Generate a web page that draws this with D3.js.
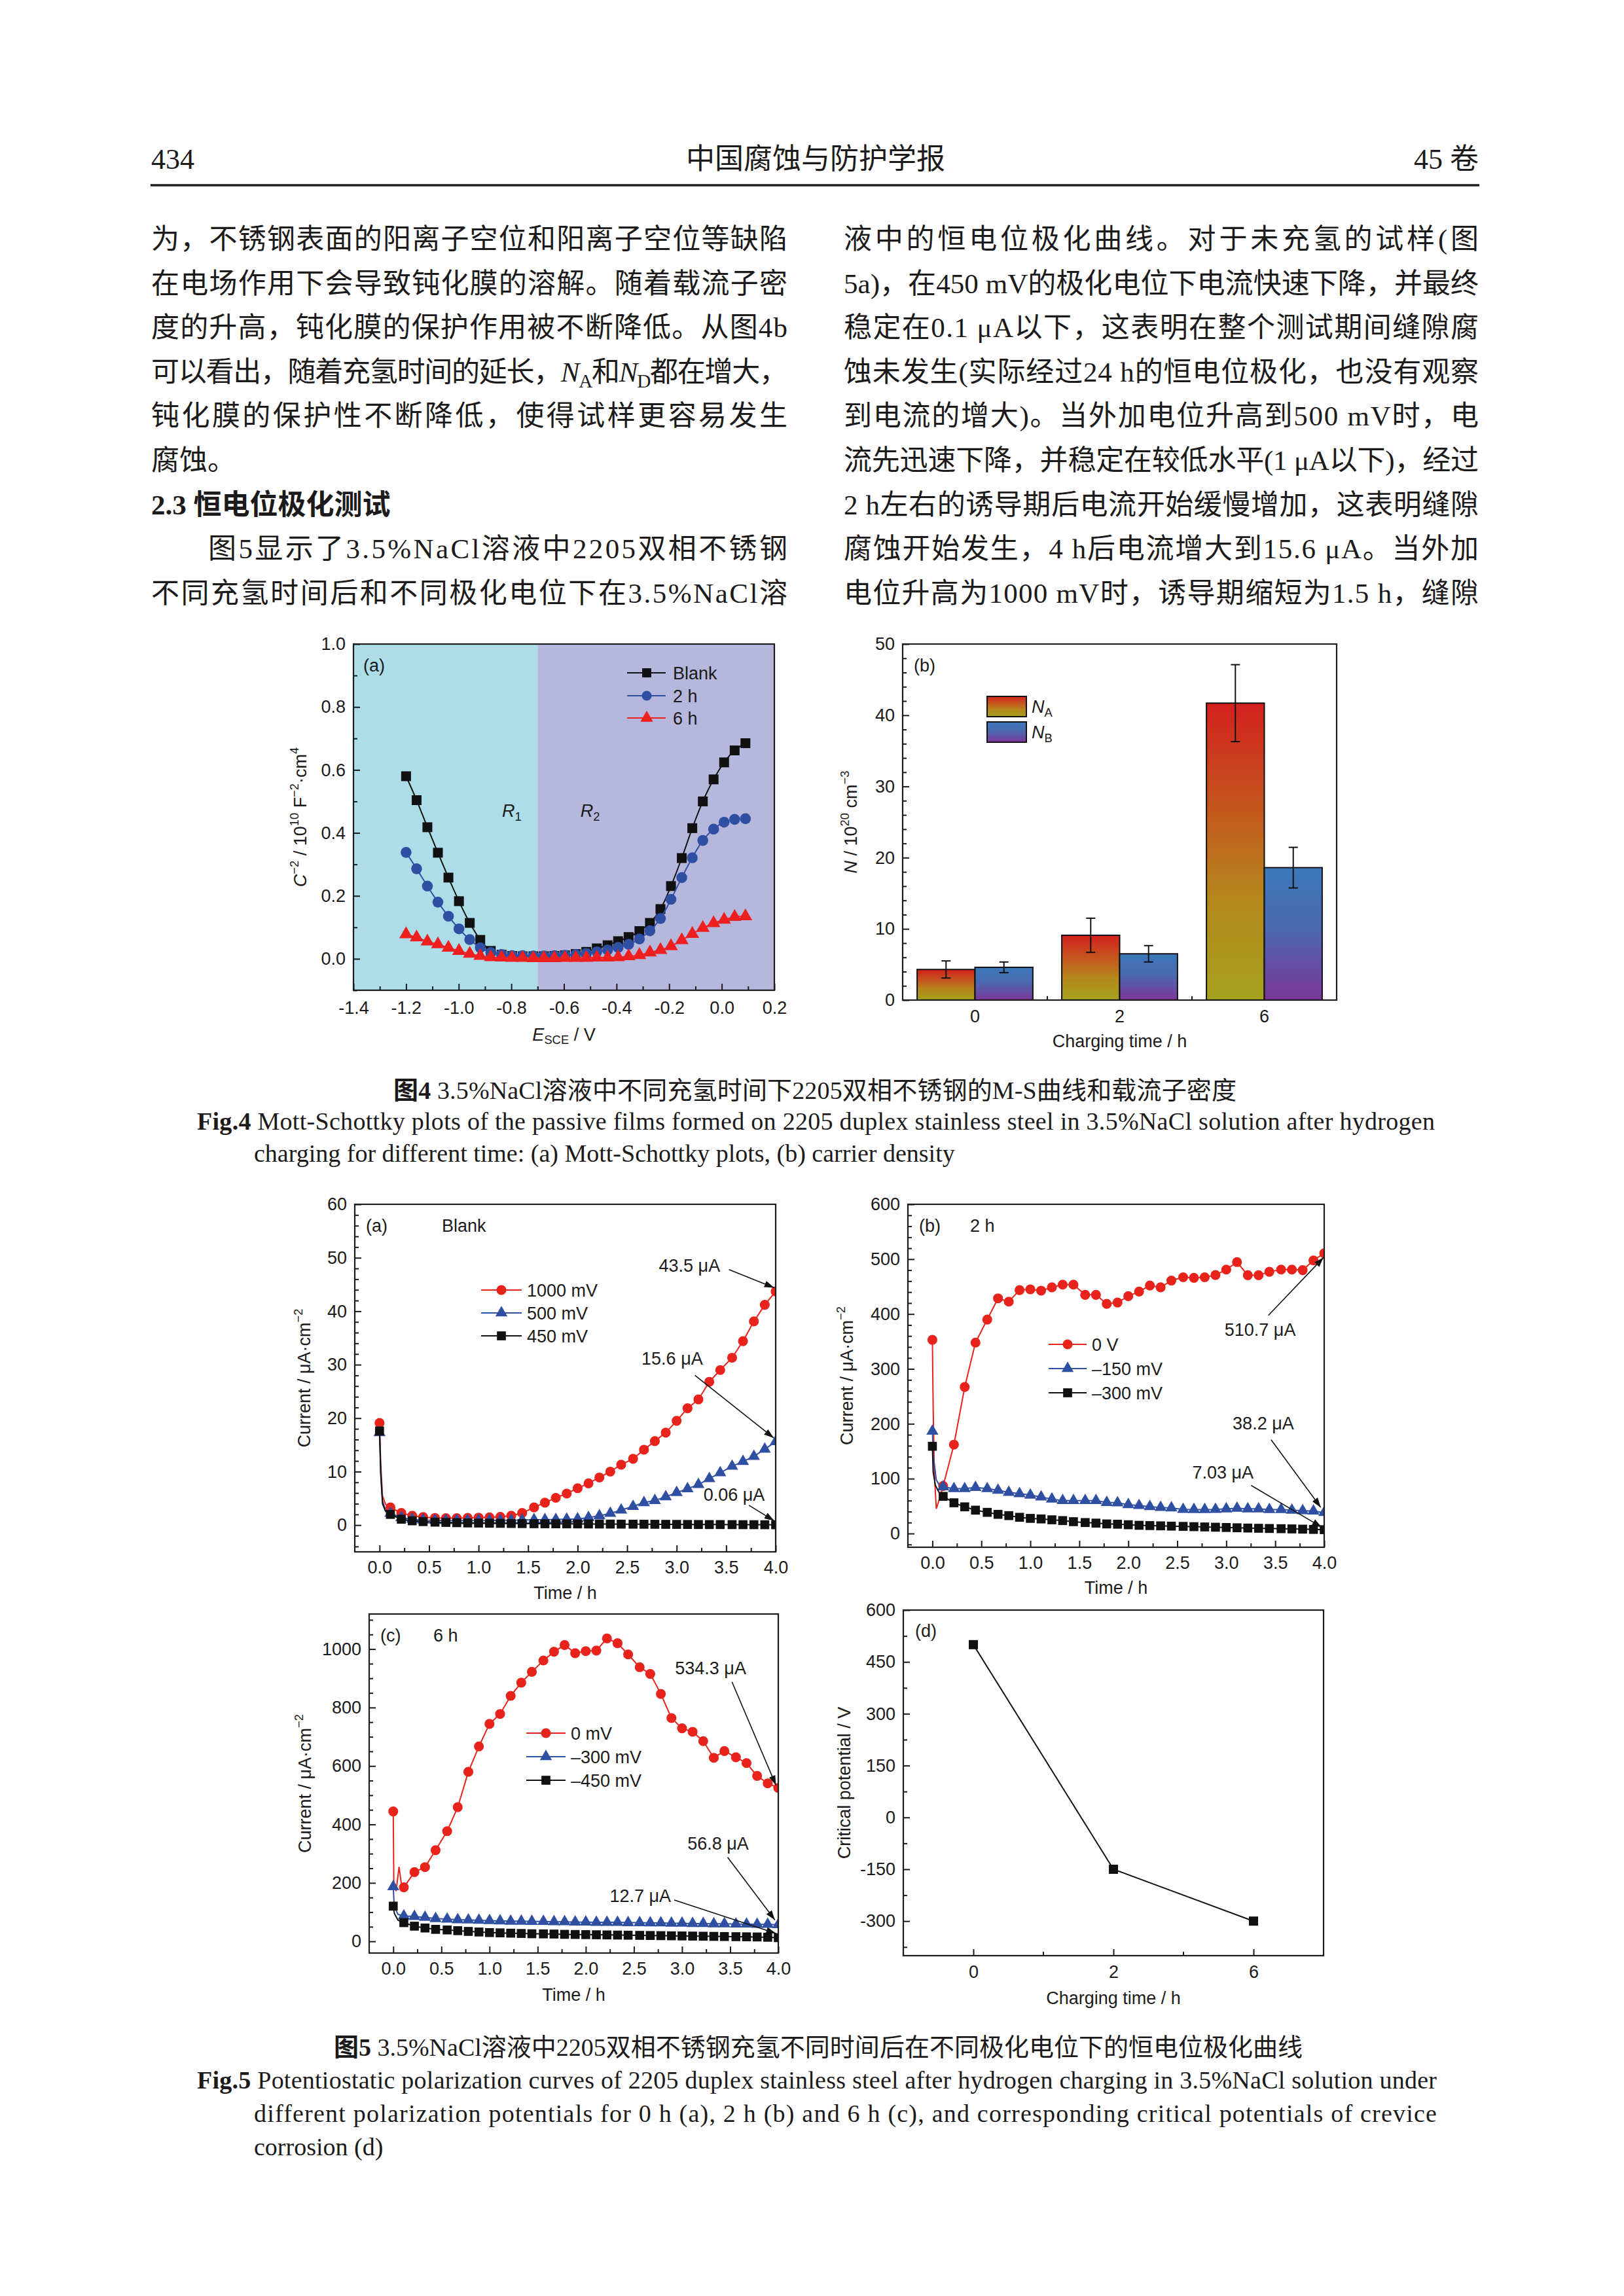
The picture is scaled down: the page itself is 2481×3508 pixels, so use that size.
<!DOCTYPE html>
<html><head><meta charset="utf-8">
<script src="https://cdn.jsdelivr.net/npm/d3@7/dist/d3.min.js"></script>
<style>html,body{margin:0;padding:0;background:#fff}svg{display:block}</style>
</head><body>
<svg id="page" width="2481" height="3508" xmlns="http://www.w3.org/2000/svg"></svg>
<script>
// ================= DATA =================
const headerLeft = "434", headerMid = "中国腐蚀与防护学报", headerRight = "45 卷";

const leftLines = [
  [{t:"为，不锈钢表面的阳离子空位和阳离子空位等缺陷"}],
  [{t:"在电场作用下会导致钝化膜的溶解。随着载流子密"}],
  [{t:"度的升高，钝化膜的保护作用被不断降低。从图4b"}],
  [{t:"可以看出，随着充氢时间的延长，"},{t:"N",it:1},{t:"A",sub:1},{t:"和"},{t:"N",it:1},{t:"D",sub:1},{t:"都在增大，"}],
  [{t:"钝化膜的保护性不断降低，使得试样更容易发生"}],
  [{t:"腐蚀。"}],
  [{t:"2.3  恒电位极化测试",b:1}],
  [{t:"图5显示了3.5%NaCl溶液中2205双相不锈钢"}],
  [{t:"不同充氢时间后和不同极化电位下在3.5%NaCl溶"}]
];
const leftJustify = [1,1,1,1,1,0,0,1,1];
const leftIndent  = [0,0,0,0,0,0,0,1,0];
const rightLines = [
  "液中的恒电位极化曲线。对于未充氢的试样(图",
  "5a)，在450 mV的极化电位下电流快速下降，并最终",
  "稳定在0.1 μA以下，这表明在整个测试期间缝隙腐",
  "蚀未发生(实际经过24 h的恒电位极化，也没有观察",
  "到电流的增大)。当外加电位升高到500 mV时，电",
  "流先迅速下降，并稳定在较低水平(1 μA以下)，经过",
  "2 h左右的诱导期后电流开始缓慢增加，这表明缝隙",
  "腐蚀开始发生，4 h后电流增大到15.6 μA。当外加",
  "电位升高为1000 mV时，诱导期缩短为1.5 h，缝隙"
];

const fig4CapCN = [{t:"图4",b:1},{t:" 3.5%NaCl溶液中不同充氢时间下2205双相不锈钢的M-S曲线和载流子密度"}];
const fig4CapEN1 = [{t:"Fig.4",b:1},{t:" Mott-Schottky plots of the passive films formed on 2205 duplex stainless steel in 3.5%NaCl solution after hydrogen"}];
const fig4CapEN2 = "charging for different time: (a) Mott-Schottky plots, (b) carrier density";
const fig5CapCN = [{t:"图5",b:1},{t:" 3.5%NaCl溶液中2205双相不锈钢充氢不同时间后在不同极化电位下的恒电位极化曲线"}];
const fig5CapEN1 = [{t:"Fig.5",b:1},{t:" Potentiostatic polarization curves of 2205 duplex stainless steel after hydrogen charging in 3.5%NaCl solution under"}];
const fig5CapEN2 = "different polarization potentials for 0 h (a), 2 h (b) and 6 h (c), and corresponding critical potentials of crevice";
const fig5CapEN3 = "corrosion (d)";

// Fig 4a  Mott-Schottky
const E = [-1.200,-1.160,-1.119,-1.079,-1.039,-0.999,-0.958,-0.918,-0.878,-0.837,-0.797,-0.757,-0.716,-0.676,-0.636,-0.596,-0.555,-0.515,-0.475,-0.434,-0.394,-0.354,-0.313,-0.273,-0.233,-0.193,-0.152,-0.112,-0.072,-0.031,0.009,0.049,0.090];
const msBlank = [0.580,0.504,0.418,0.337,0.258,0.183,0.114,0.060,0.025,0.013,0.009,0.008,0.008,0.008,0.009,0.011,0.015,0.022,0.033,0.043,0.056,0.069,0.088,0.114,0.158,0.231,0.320,0.415,0.500,0.570,0.624,0.662,0.685];
const ms2h    = [0.338,0.286,0.231,0.180,0.135,0.095,0.061,0.035,0.020,0.014,0.010,0.010,0.009,0.009,0.010,0.011,0.013,0.017,0.022,0.028,0.036,0.046,0.063,0.089,0.128,0.189,0.258,0.321,0.376,0.412,0.434,0.443,0.445];
const ms6h    = [0.078,0.068,0.055,0.046,0.035,0.025,0.016,0.009,0.005,0.004,0.003,0.003,0.002,0.002,0.002,0.003,0.003,0.003,0.004,0.004,0.005,0.008,0.012,0.020,0.028,0.040,0.059,0.079,0.098,0.113,0.124,0.133,0.135];
const msLabels = ["Blank","2 h","6 h"];
const regionSplit = -0.7;
const fig4aXTicks = [-1.4,-1.2,-1.0,-0.8,-0.6,-0.4,-0.2,0.0,0.2];
const fig4aXMinor = [-1.3,-1.1,-0.9,-0.7,-0.5,-0.3,-0.1,0.1];
const fig4aYTicks = [0.0,0.2,0.4,0.6,0.8,1.0];
const fig4aYMinor = [-0.1,0.1,0.3,0.5,0.7,0.9];

// Fig 4b  carrier density
const chargeCats = ["0","2","6"];
const NA = [4.3, 9.1, 41.7];
const NAerr = [1.2, 2.4, 5.4];
const NB = [4.6, 6.5, 18.6];
const NBerr = [0.75, 1.15, 2.85];
const fig4bYTicks = [0,10,20,30,40,50];

// Fig 5 time axis (markers)
const T5 = [0,0.11,0.22,0.33,0.44,0.56,0.67,0.78,0.89,1.0,1.11,1.22,1.33,1.44,1.56,1.67,1.78,1.89,2.0,2.11,2.22,2.33,2.44,2.56,2.67,2.78,2.89,3.0,3.11,3.22,3.33,3.44,3.56,3.67,3.78,3.89,4.0];
const timeTicks = [0,0.5,1.0,1.5,2.0,2.5,3.0,3.5,4.0];
const timeMinor = [0.25,0.75,1.25,1.75,2.25,2.75,3.25,3.75];

// Fig 5a  Blank
const a1000 = [19.1,3.3,2.26,1.75,1.5,1.34,1.3,1.3,1.35,1.4,1.45,1.55,1.75,2.26,3.3,4.2,5.1,5.9,6.9,7.8,8.9,10.0,11.3,12.4,14.1,15.7,17.3,19.5,21.85,23.5,26.8,29.0,31.3,34.4,38.1,41.2,43.7];
const a500  = [17.3,2.2,1.4,1.1,0.95,0.9,0.85,0.85,0.85,0.85,0.85,0.9,0.9,0.95,1.0,1.0,1.05,1.1,1.15,1.4,1.75,2.2,2.8,3.5,4.2,4.6,5.3,6.1,6.8,7.6,8.7,9.8,11.0,11.9,12.85,14.2,15.6];
const a450  = [17.6,2.0,1.1,0.8,0.65,0.55,0.5,0.45,0.4,0.38,0.35,0.33,0.3,0.28,0.26,0.25,0.24,0.23,0.22,0.21,0.2,0.19,0.18,0.17,0.16,0.15,0.14,0.13,0.12,0.11,0.1,0.1,0.09,0.08,0.08,0.07,0.06];
const a1000Head = [[0,19.1],[0.012,11.5],[0.03,5.5],[0.06,3.9]];
const a500Head  = [[0,17.3],[0.012,10.0],[0.03,4.5],[0.06,2.8]];
const a450Head  = [[0,17.6],[0.012,9.5],[0.03,4.0],[0.06,2.6]];
const aLabels = ["1000 mV","500 mV","450 mV"];
const aYTicks = [0,10,20,30,40,50,60];

// Fig 5b  2 h
const b0    = [353,86.7,162,267,348,390,428.6,422.6,443.6,445,442.6,448.6,453.6,453.6,435,435,418.5,421,432.6,441,452,448.6,461,467,466,467,471,481,494.7,470.7,470.7,477,481,481,480,497.7,510.7];
const b150  = [186.5,85,81.7,81.7,84,81.7,79,75,72.7,70,66.7,62.7,60,60,60,60,56.6,56,52.6,51,49,47.6,46.6,44,43.6,43.6,44,45,46,45,45,43.6,43.6,42.6,41.6,41,38.2];
const b300  = [159,67.7,56,48.6,42.6,38.6,35,32.6,29.6,27.6,26.6,25,23.6,21.6,20,19,17.5,17,16,15,14.5,14,13.5,13,12.5,12,11.5,11,10.5,10,9.6,9.2,8.8,8.4,8,7.5,7.03];
const b0Head   = [[0,353],[0.008,230],[0.02,110],[0.04,45],[0.07,62]];
const b150Head = [[0,186.5],[0.01,140],[0.04,98],[0.07,88]];
const b300Head = [[0,159],[0.008,112],[0.03,88],[0.07,74]];
const bLabels = ["0 V","–150 mV","–300 mV"];
const bYTicks = [0,100,200,300,400,500,600];

// Fig 5c  6 h
const c0    = [444.7,185,237,254,312,377,459,580,667,744,778,840,885,922,961,991,1014,986,993,995,1036.5,1020,981.7,938,915,846.6,764,729,717,685,628,651,630,610,566,540.6,525];
const c300  = [187,87,85,82,78,76,74,73,72,71,70,69,69,68,68,67,67,66,66,65,65,65,64,64,63,63,62,62,61,61,60,60,59,59,58,58,56.8];
const c450  = [120.5,64,52,45.7,41,39,36.5,34,32,30,29,28,27,26,25.5,25,24,23.5,23,22.5,22,21.5,21,20.5,20,19.5,19,18.5,18,17.5,17,16.5,16,15.5,15,14,12.7];
const c0Head   = [[0,444.7],[0.006,200],[0.03,172],[0.06,255],[0.085,195]];
const c300Head = [[0,187],[0.01,120],[0.05,92]];
const c450Head = [[0,120.5],[0.012,95],[0.05,72]];
const cLabels = ["0 mV","–300 mV","–450 mV"];
const cYTicks = [0,200,400,600,800,1000];

// Fig 5d  critical potential
const critCats = ["0","2","6"];
const critPot = [500,-150,-300];
const dYTicks = [-300,-150,0,150,300,450,600];
const dYMinor = [-375,-225,-75,75,225,375,525];

// annotations (data coordinates of label centre and arrow)
const ann5a = [
  {s:"43.5 μA", tx:3.13, ty:48.5, x1:3.528, y1:47.8, x2:3.985, y2:44.4},
  {s:"15.6 μA", tx:2.955, ty:31.2, x1:3.185, y1:28.0, x2:3.98, y2:16.3},
  {s:"0.06 μA", tx:3.58, ty:5.76, x1:3.73, y1:3.7, x2:3.985, y2:0.8}
];
const ann5b = [
  {s:"510.7 μA", tx:3.346, ty:371, x1:3.43, y1:397.5, x2:3.993, y2:503},
  {s:"38.2 μA", tx:3.378, ty:200.5, x1:3.458, y1:171, x2:3.965, y2:47.6},
  {s:"7.03 μA", tx:2.966, ty:111.8, x1:3.254, y1:87.7, x2:3.975, y2:11.5}
];
const ann5c = [
  {s:"534.3 μA", tx:3.297, ty:936, x1:3.519, y1:887.7, x2:3.976, y2:534},
  {s:"56.8 μA", tx:3.374, ty:336, x1:3.474, y1:287.7, x2:3.965, y2:73},
  {s:"12.7 μA", tx:2.567, ty:155, x1:2.92, y1:141.6, x2:3.976, y2:27.4}
];

// ================= STYLE =================
const SANS = "'Liberation Sans', Arial, Helvetica, sans-serif";
const SERIF = "'Liberation Serif', 'Times New Roman', 'Noto Sans CJK SC', serif";
const INK = "#1c1a1a";
const RED = "#e8231c", BLUE = "#2f4fa2", BLACK = "#111111";
const FS = 27;

const svg = d3.select("#page");
const defs = svg.append("defs");
defs.append("marker").attr("id","arrow").attr("viewBox","0 0 10 10")
  .attr("refX",10).attr("refY",5).attr("markerWidth",15).attr("markerHeight",15)
  .attr("markerUnits","userSpaceOnUse").attr("orient","auto")
  .append("path").attr("d","M0,1.6 L10,5 L0,8.4 Z").attr("fill",BLACK);

function grad(id, stops){
  const g = defs.append("linearGradient").attr("id",id).attr("x1",0).attr("y1",0).attr("x2",0).attr("y2",1);
  stops.forEach(s=>g.append("stop").attr("offset",s[0]).attr("stop-color",s[1]));
}
grad("gNA", [[0,"#d3211f"],[0.35,"#c4561d"],[0.65,"#b5861c"],[1,"#a4a11f"]]);
grad("gNB", [[0,"#3d78bb"],[0.45,"#4a69b0"],[1,"#7c3798"]]);

function rich(t, parts, fs){
  let shift = 0;
  parts.forEach(p=>{
    const target = p.sup ? -0.42*fs : (p.sub ? 0.22*fs : 0);
    const ts = t.append("tspan").text(p.t);
    if (target - shift !== 0) ts.attr("dy", target - shift);
    shift = target;
    if (p.sup || p.sub) ts.attr("font-size", fs*0.68);
    if (p.it) ts.attr("font-style","italic");
    if (p.b) ts.attr("font-weight","bold");
  });
}
function addText(parent, x, y, parts, o={}){
  const fs = o.fs || 43;
  const t = parent.append("text").attr("x",x).attr("y",y)
    .attr("font-family", o.ff || SERIF).attr("font-size", fs).attr("fill", o.fill || INK);
  if (o.anchor) t.attr("text-anchor", o.anchor);
  if (o.weight) t.attr("font-weight", o.weight);
  if (o.len) t.attr("textLength", o.len).attr("lengthAdjust","spacing");
  if (o.rotate) t.attr("transform", `rotate(-90,${x},${y})`);
  if (typeof parts === "string") parts = [{t:parts}];
  rich(t, parts, fs);
  return t;
}

// ================= PAGE TEXT =================
addText(svg, 231, 258, headerLeft, {fs:44});
addText(svg, 1246, 258, headerMid, {fs:44, anchor:"middle"});
addText(svg, 2259, 258, headerRight, {fs:44, anchor:"end"});
svg.append("line").attr("x1",230).attr("x2",2260).attr("y1",283).attr("y2",283).attr("stroke",INK).attr("stroke-width",3.5);

const bodyY0 = 380, bodyDY = 67.6;
leftLines.forEach((parts,i)=>{
  const x0 = leftIndent[i] ? 318 : 231;
  const o = {fs:43};
  if (leftJustify[i]) o.len = 1203 - x0;
  addText(svg, x0, bodyY0 + i*bodyDY, parts, o);
});
rightLines.forEach((s,i)=>{
  addText(svg, 1289, bodyY0 + i*bodyDY, s, {fs:43, len:2259-1289});
});

// captions
addText(svg, 601, 1679, fig4CapCN, {fs:38, len:1288});
addText(svg, 301, 1726, fig4CapEN1, {fs:38, len:1891});
addText(svg, 388, 1775, fig4CapEN2, {fs:38});
addText(svg, 510, 3141, fig5CapCN, {fs:38, len:1480});
addText(svg, 301, 3191, fig5CapEN1, {fs:38, len:1894});
addText(svg, 388, 3242, fig5CapEN2, {fs:38, len:1807});
addText(svg, 388, 3293, fig5CapEN3, {fs:38});

// ================= CHART HELPERS =================
function panel(b){
  const g = svg.append("g").attr("transform",`translate(${b.l},${b.t})`);
  return {g, w:b.r-b.l, h:b.b-b.t, b};
}
function styleAxis(sel){
  sel.select(".domain").remove();
  sel.selectAll(".tick line").attr("stroke",INK).attr("stroke-width",2);
  sel.selectAll(".tick text").attr("font-family",SANS).attr("font-size",FS).attr("fill",INK);
}
function xAxis(p, x, ticks, fmt, pad, minor){
  const ax = d3.axisBottom(x).tickSizeInner(-10).tickSizeOuter(0).tickPadding(pad);
  if (ticks) ax.tickValues(ticks);
  if (fmt) ax.tickFormat(fmt);
  styleAxis(p.g.append("g").attr("transform",`translate(0,${p.h})`).call(ax));
  if (minor) styleAxis(p.g.append("g").attr("transform",`translate(0,${p.h})`)
    .call(d3.axisBottom(x).tickValues(minor).tickFormat(()=>"").tickSizeInner(-6).tickSizeOuter(0)));
}
function yAxis(p, y, ticks, fmt, minor){
  const ax = d3.axisLeft(y).tickValues(ticks).tickSizeInner(-10).tickSizeOuter(0).tickPadding(12);
  if (fmt) ax.tickFormat(fmt);
  styleAxis(p.g.append("g").call(ax));
  if (minor) styleAxis(p.g.append("g")
    .call(d3.axisLeft(y).tickValues(minor).tickFormat(()=>"").tickSizeInner(-6).tickSizeOuter(0)));
}
function frame(p){
  p.g.append("rect").attr("width",p.w).attr("height",p.h).attr("fill","none").attr("stroke",INK).attr("stroke-width",2.2);
}
function yTitle(p, cx, parts){
  addText(svg, cx + 9.5, p.b.t + p.h/2, parts, {ff:SANS, fs:FS, anchor:"middle", rotate:true});
}
function xTitle(p, cy, parts){
  addText(svg, p.b.l + p.w/2, cy + 9.5, parts, {ff:SANS, fs:FS, anchor:"middle"});
}
function ptext(p, dx, dy, parts){
  addText(p.g, dx, dy + 9.5, parts, {ff:SANS, fs:FS});
}
const SYM = {sq:[d3.symbolSquare,196], ci:[d3.symbolCircle,180], tr:[d3.symbolTriangle,118]};
function drawMarkers(g, pts, x, y, sym, color, scale=1){
  g.selectAll(null).data(pts).join("path")
    .attr("transform", d=>`translate(${x(d[0])},${y(d[1])})`)
    .attr("d", d3.symbol(SYM[sym][0], SYM[sym][1]*scale)).attr("fill", color);
}
function legendRow(p, lx1, lx2, mx, tx, ry, sym, color, label, scale=1){
  p.g.append("line").attr("x1",lx1).attr("x2",lx2).attr("y1",ry).attr("y2",ry).attr("stroke",color).attr("stroke-width",2.2);
  p.g.append("path").attr("transform",`translate(${mx},${ry})`).attr("d", d3.symbol(SYM[sym][0], SYM[sym][1]*scale)).attr("fill",color);
  addText(p.g, tx, ry + 9.5, label, {ff:SANS, fs:FS});
}
function clip(p, id){
  defs.append("clipPath").attr("id",id).append("rect").attr("width",p.w).attr("height",p.h);
  return p.g.append("g").attr("clip-path",`url(#${id})`);
}
function annotate(p, list, x, y){
  list.forEach(a=>{
    p.g.append("line").attr("x1",x(a.x1)).attr("y1",y(a.y1)).attr("x2",x(a.x2)).attr("y2",y(a.y2))
      .attr("stroke",BLACK).attr("stroke-width",1.6).attr("marker-end","url(#arrow)");
    addText(p.g, x(a.tx), y(a.ty) + 9.5, a.s, {ff:SANS, fs:FS, anchor:"middle"});
  });
}
const zip = (xs, ys) => xs.map((v,i)=>[v, ys[i]]);

// ================= FIG 4a =================
{
  const p = panel({l:540,t:984,r:1183,b:1513});
  const x = d3.scaleLinear().domain([-1.4,0.2]).range([0,p.w]);
  const y = d3.scaleLinear().domain([-0.1,1.0]).range([p.h,0]);
  p.g.append("rect").attr("x",x(-1.4)).attr("width",x(regionSplit)-x(-1.4)).attr("height",p.h).attr("fill","#acdde9");
  p.g.append("rect").attr("x",x(regionSplit)).attr("width",x(0.2)-x(regionSplit)).attr("height",p.h).attr("fill","#b5b7dc");
  const series = [[msBlank,"sq",BLACK],[ms2h,"ci",BLUE],[ms6h,"tr","#ee1f1f"]];
  const line = d3.line().x(d=>x(d[0])).y(d=>y(d[1])).curve(d3.curveCatmullRom);
  series.forEach(([vals,sym,col])=>{
    const pts = zip(E, vals);
    p.g.append("path").attr("d",line(pts)).attr("fill","none").attr("stroke",col).attr("stroke-width",2);
    drawMarkers(p.g, pts, x, y, sym, col, sym==="sq"?1.15:(sym==="ci"?1.2:1.6));
  });
  addText(p.g, x(-0.798), y(0.471)+9.5, [{t:"R",it:1},{t:"1",sub:1}], {ff:SANS, fs:FS, anchor:"middle"});
  addText(p.g, x(-0.5), y(0.471)+9.5, [{t:"R",it:1},{t:"2",sub:1}], {ff:SANS, fs:FS, anchor:"middle"});
  legendRow(p, 418, 477, 448, 488, 44, "sq", BLACK, msLabels[0], 1.0);
  legendRow(p, 418, 477, 448, 488, 79, "ci", BLUE, msLabels[1], 1.0);
  legendRow(p, 418, 477, 448, 488, 113, "tr", "#ee1f1f", msLabels[2], 1.4);
  ptext(p, 15, 32, "(a)");
  xAxis(p, x, fig4aXTicks, d=>d.toFixed(1), 17, fig4aXMinor);
  yAxis(p, y, fig4aYTicks, d=>d.toFixed(1), fig4aYMinor);
  frame(p);
  yTitle(p, 458, [{t:"C",it:1},{t:"−2",sup:1},{t:" / 10"},{t:"10",sup:1},{t:" F"},{t:"−2",sup:1},{t:"·cm"},{t:"4",sup:1}]);
  xTitle(p, 1580, [{t:"E",it:1},{t:"SCE",sub:1},{t:" / V"}]);
}

// ================= FIG 4b =================
{
  const p = panel({l:1379,t:984,r:2042,b:1528});
  const x = d3.scaleBand().domain(chargeCats).range([0,p.w]).paddingInner(0.2).paddingOuter(0.1);
  const xs = d3.scaleBand().domain(["NA","NB"]).range([0,x.bandwidth()]);
  const y = d3.scaleLinear().domain([0,50]).range([p.h,0]);
  const rows = chargeCats.map((c,i)=>({c, v:[["NA",NA[i],NAerr[i]],["NB",NB[i],NBerr[i]]]}));
  rows.forEach(r=>{
    r.v.forEach(([k,v,e])=>{
      const bx = x(r.c) + xs(k);
      p.g.append("rect").attr("x",bx).attr("y",y(v)).attr("width",xs.bandwidth()).attr("height",y(0)-y(v))
        .attr("fill",`url(#g${k})`).attr("stroke",BLACK).attr("stroke-width",2);
      const cx = bx + xs.bandwidth()/2;
      p.g.append("line").attr("x1",cx).attr("x2",cx).attr("y1",y(v-e)).attr("y2",y(v+e)).attr("stroke",BLACK).attr("stroke-width",2);
      [v-e, v+e].forEach(q=>p.g.append("line").attr("x1",cx-7).attr("x2",cx+7).attr("y1",y(q)).attr("y2",y(q)).attr("stroke",BLACK).attr("stroke-width",2));
    });
  });
  chargeCats.slice(1).forEach(c=>{
    const bx = x(c) - x.step()*x.paddingInner()/2;
    p.g.append("line").attr("x1",bx).attr("x2",bx).attr("y1",p.h).attr("y2",p.h-6).attr("stroke",INK).attr("stroke-width",2);
  });
  const gx = p.g.append("g").attr("transform",`translate(0,${p.h})`).call(d3.axisBottom(x).tickSize(0).tickPadding(15));
  styleAxis(gx);
  yAxis(p, y, fig4bYTicks, d=>String(d), d3.range(2,50,2).filter(v=>v%10!==0));
  [["NA","A",80],["NB","B",119]].forEach(([k,sub,ty])=>{
    p.g.append("rect").attr("x",129).attr("y",ty).attr("width",60).attr("height",31).attr("fill",`url(#g${k})`).attr("stroke",BLACK).attr("stroke-width",2);
    addText(p.g, 197, ty+15.5+9.5, [{t:"N",it:1},{t:sub,sub:1}], {ff:SANS, fs:FS});
  });
  ptext(p, 17, 32, "(b)");
  frame(p);
  yTitle(p, 1299, [{t:"N",it:1},{t:" / 10"},{t:"20",sup:1},{t:" cm"},{t:"−3",sup:1}]);
  xTitle(p, 1590, "Charging time / h");
}

// ================= FIG 5 a-c =================
function timePanel(box, dom, yTicks, yMinor, sets, labels, legend, anns, tag, tagX, id, ytx, xty){
  const p = panel(box);
  const x = d3.scaleLinear().domain([-0.25,4.0]).range([0,p.w]);
  const y = d3.scaleLinear().domain(dom).range([p.h,0]);
  const cg = clip(p, id);
  const line = d3.line().x(d=>x(d[0])).y(d=>y(d[1]));
  sets.forEach(s=>{
    const pts = zip(T5, s.v);
    cg.append("path").attr("d", line(s.head.concat(pts.slice(1)))).attr("fill","none").attr("stroke",s.c).attr("stroke-width",2);
    drawMarkers(cg, pts, x, y, s.sym, s.c, s.sym==="tr"?1.25:(s.sym==="sq"?0.95:1.0));
  });
  sets.forEach((s,i)=>legendRow(p, legend.l1, legend.l2, legend.m, legend.t, legend.rows[i], s.sym, s.c, labels[i], s.sym==="tr"?1.25:(s.sym==="sq"?0.95:1.0)));
  annotate(p, anns, x, y);
  ptext(p, 17, 32, tag[0]);
  ptext(p, tagX, 32, tag[1]);
  xAxis(p, x, timeTicks, d=>d.toFixed(1), 14, timeMinor);
  yAxis(p, y, yTicks, d=>String(d), yMinor);
  frame(p);
  yTitle(p, ytx, [{t:"Current / μA·cm"},{t:"−2",sup:1}]);
  xTitle(p, xty, "Time / h");
}
timePanel({l:542,t:1840,r:1185,b:2371}, [-5,60], aYTicks, d3.range(-4,60,2).filter(v=>v%10!==0),
  [{v:a1000,head:a1000Head,sym:"ci",c:RED},{v:a500,head:a500Head,sym:"tr",c:BLUE},{v:a450,head:a450Head,sym:"sq",c:BLACK}],
  aLabels, {l1:193,l2:255,m:224,t:263,rows:[131,166,201]}, ann5a, ["(a)","Blank"], 133, "clipA", 464, 2433);
timePanel({l:1387,t:1840,r:2023,b:2364}, [-25,600], bYTicks, d3.range(-20,600,20).filter(v=>v%100!==0),
  [{v:b0,head:b0Head,sym:"ci",c:RED},{v:b150,head:b150Head,sym:"tr",c:BLUE},{v:b300,head:b300Head,sym:"sq",c:BLACK}],
  bLabels, {l1:215,l2:273,m:244,t:281,rows:[214,251,288]}, ann5b, ["(b)","2 h"], 95, "clipB", 1293, 2425);
timePanel({l:564,t:2466,r:1189,b:2984}, [-40,1120], cYTicks, d3.range(50,1120,50).filter(v=>v%200!==0),
  [{v:c0,head:c0Head,sym:"ci",c:RED},{v:c300,head:c300Head,sym:"tr",c:BLUE},{v:c450,head:c450Head,sym:"sq",c:BLACK}],
  cLabels, {l1:240,l2:300,m:270,t:308,rows:[182,218,254]}, ann5c, ["(c)","6 h"], 98, "clipC", 465, 3047);

// ================= FIG 5d =================
{
  const p = panel({l:1380,t:2460,r:2022,b:2988});
  const x = d3.scalePoint().domain(critCats).range([0,p.w]).padding(0.5);
  const y = d3.scaleLinear().domain([-400,600]).range([p.h,0]);
  const pts = critCats.map((c,i)=>[c, critPot[i]]);
  p.g.append("path").attr("d", d3.line().x(d=>x(d[0])).y(d=>y(d[1]))(pts)).attr("fill","none").attr("stroke",BLACK).attr("stroke-width",2);
  drawMarkers(p.g, pts, x, y, "sq", BLACK, 1.0);
  xAxis(p, x, null, null, 15, null);
  critCats.slice(1).forEach((c,i)=>{
    const mx = (x(c) + x(critCats[i]))/2;
    p.g.append("line").attr("x1",mx).attr("x2",mx).attr("y1",p.h).attr("y2",p.h-6).attr("stroke",INK).attr("stroke-width",2);
  });
  yAxis(p, y, dYTicks, d=>String(d), dYMinor);
  ptext(p, 18, 31, "(d)");
  frame(p);
  yTitle(p, 1289, "Critical potential / V");
  xTitle(p, 3052, "Charging time / h");
}
</script>
</body></html>
